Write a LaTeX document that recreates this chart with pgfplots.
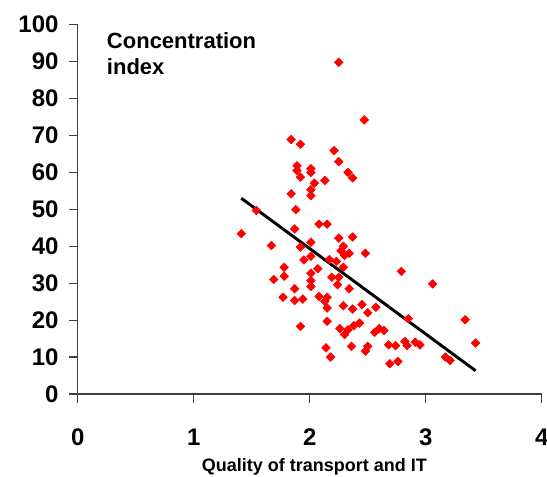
\documentclass[border=0pt]{standalone}
\usepackage{fontspec}
\setmainfont{Liberation Sans}
\usepackage{pgfplots}
\pgfplotsset{compat=1.18}
\begin{document}
\begin{tikzpicture}
\begin{axis}[
 scale only axis, width=348pt, height=277pt,
 xmin=0,xmax=4,ymin=0,ymax=100,
 axis lines=left,
 axis line style={line width=0.9pt, color=black!75, -},
 xtick={0,1,2,3,4}, ytick={0,10,...,100},
 tick align=outside, major tick length=6.4pt,
 tick style={line width=0.9pt,color=black!75},
 /pgf/number format/assume math mode=true,
 ticklabel style={font=\bfseries\fontsize{18}{18}\selectfont},
 xticklabel style={yshift=-16pt},
 yticklabel style={xshift=-4.5pt},
 clip=false,
 xlabel={Quality of transport and IT},
 xlabel style={font=\bfseries\fontsize{13.5}{13.5}\selectfont, at={(axis description cs:0.51,0)}, anchor=base, yshift=-58.5pt},
]
\coordinate (O) at (rel axis cs:0,0);
\addplot[only marks, mark=square*, mark size=2.3pt, mark options={rotate=45, fill=red, draw=red}] coordinates {
(2.25,89.8) (2.47,74.2) (1.84,68.9) (1.92,67.6) (2.21,65.9) (2.25,62.9)
(1.89,61.8) (2.01,61.0) (2.01,60.0) (2.33,60.0) (2.37,58.5) (1.89,60.5)
(1.92,58.7) (2.13,57.8) (2.04,57.1) (1.84,54.2) (2.01,55.3) (2.01,53.7)
(1.54,49.7) (1.88,49.9) (1.41,43.4) (2.08,46.0) (2.15,46.0) (1.87,44.7)
(1.67,40.2) (2.01,41.1) (1.92,39.8) (2.25,42.2) (2.37,42.5) (2.29,40.0)
(2.27,38.8) (2.34,38.1) (2.48,38.1) (2.30,37.5) (2.01,37.3) (1.95,36.3)
(2.17,36.4) (2.23,35.9) (2.29,34.3) (2.07,33.9) (1.78,34.3) (1.78,31.9)
(1.69,31.0) (2.01,32.7) (2.01,30.7) (2.19,31.6) (2.25,31.6) (2.24,29.6)
(1.87,28.5) (2.01,29.1) (2.34,28.5) (1.77,26.2) (1.87,25.3) (1.94,25.7)
(2.08,26.4) (2.15,26.2) (2.13,25.1) (2.15,23.3) (2.29,23.9) (2.37,23.0)
(2.45,24.2) (2.50,22.0) (2.57,23.5) (1.92,18.3) (2.15,19.7) (2.26,17.7)
(2.30,16.1) (2.33,17.4) (2.38,18.5) (2.43,19.2) (2.56,16.7) (2.60,17.7)
(2.14,12.5) (2.18,10.0) (2.36,12.9) (2.48,11.6) (2.50,12.9) (2.79,33.2)
(3.06,29.8) (2.85,20.4) (3.34,20.1) (2.64,17.2) (2.68,13.3) (2.74,13.1)
(2.82,14.2) (2.84,13.1) (2.91,14.0) (2.95,13.3) (3.43,13.8) (3.17,10.0)
(3.21,9.1) (2.69,8.2) (2.76,8.8)
};
\addplot[black, line width=2.2pt, no marks] coordinates {(1.41,53.0) (3.43,6.3)};
\node[anchor=north west, align=left, inner sep=0pt, font=\bfseries\fontsize{16.5}{19.3}\selectfont] at (axis cs:0.25,97.8) {Concentration\\index};
\end{axis}
\pgfresetboundingbox
\path ([shift={(-58.3pt,-62.25pt)}]O) rectangle ++(410.25pt,357.75pt);
\end{tikzpicture}
\end{document}
